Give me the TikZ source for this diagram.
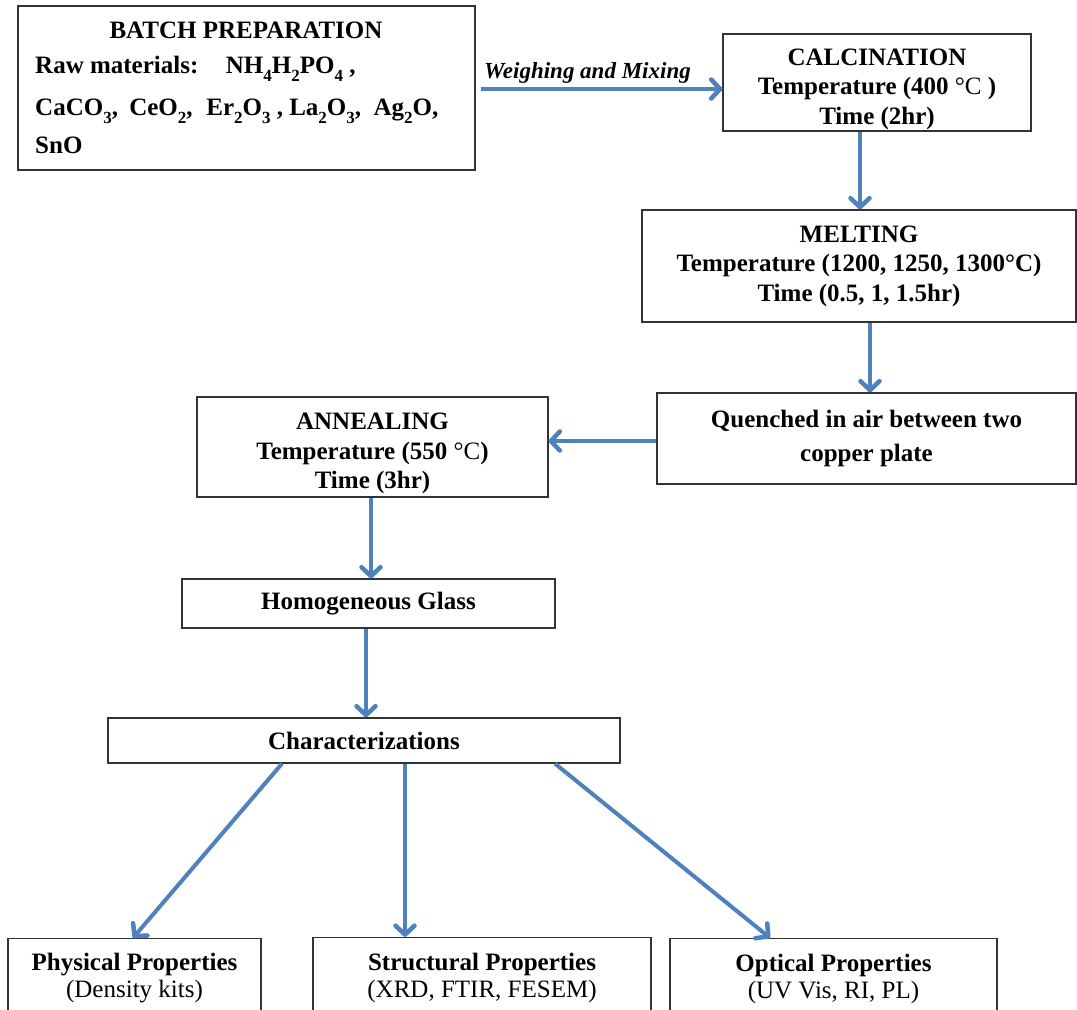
\documentclass[tikz,border=0pt]{standalone}
\usepackage{fontspec}
\setmainfont{Liberation Serif}
\usetikzlibrary{arrows.meta,calc}
\definecolor{arrblue}{HTML}{4F81BD}
\newcommand{\chemsub}[1]{\raisebox{-0.3em}{\fontsize{17}{17}\selectfont #1}}
\tikzset{
 box/.style={draw=black!80, line width=1.2pt, rectangle, inner sep=0pt, align=center, font=\bfseries\fontsize{25}{29.5}\selectfont},
 txt/.style={inner sep=0pt, font=\bfseries\fontsize{25}{29.5}\selectfont},
 arr/.style={draw=arrblue, line width=4pt, -{Straight Barb[length=9pt,width=19pt,line width=4.5pt,round]}},
}
\begin{document}
\begin{tikzpicture}[x=1pt,y=-1pt]
\clip (0,0) rectangle (1077,1010);
\fill[white] (0,0) rectangle (1077,1010);
% boxes
\node[box, minimum width=457, minimum height=164] (batch) at (246.5,88) {};
\node[txt] (batchtitle) at (246,30) {BATCH PREPARATION};
\node[txt, anchor=north west, align=left, font=\bfseries\fontsize{25}{38}\selectfont] (batchtext) at (35,56)
 {Raw materials:\hspace{1.1em}NH\chemsub{4}H\chemsub{2}PO\chemsub{4} ,\\[4pt]
  CaCO\chemsub{3},\hspace{0.2em} CeO\chemsub{2},\hspace{0.3em} Er\chemsub{2}O\chemsub{3} , La\chemsub{2}O\chemsub{3},\hspace{0.25em} Ag\chemsub{2}O,\\
  SnO};
\node[box, minimum width=308, minimum height=97] (calc) at (877,82.5)
 {\rule{0pt}{30pt}CALCINATION\\Temperature (400 {\mdseries °C} )\\Time (2hr)};
\node[box, minimum width=434, minimum height=112] (melt) at (859,266)
 {MELTING\\Temperature (1200, 1250, 1300°C)\\Time (0.5, 1, 1.5hr)};
\node[box, minimum width=419, minimum height=91, font=\bfseries\fontsize{25}{34}\selectfont] (quench) at (866.5,438.5)
 {Quenched in air between two\\copper plate};
\node[box, minimum width=351, minimum height=100] (anneal) at (372.5,447)
 {\rule{0pt}{30pt}ANNEALING\\Temperature (550 {\mdseries °C})\\Time (3hr)};
\node[box, minimum width=373, minimum height=49] (homog) at (368.5,603.5) {Homogeneous Glass};
\node[box, minimum width=512, minimum height=45] (char) at (364,740.5) {Characterizations};
\node[box, minimum width=253, minimum height=80, font=\fontsize{25}{27}\selectfont] (phys) at (134.5,978.5)
 {\textbf{Physical Properties}\\(Density kits)};
\node[box, minimum width=338, minimum height=80, font=\fontsize{25}{27}\selectfont] (struct) at (482,977.5)
 {\textbf{Structural Properties}\\(XRD, FTIR, FESEM)};
\node[box, minimum width=327, minimum height=80, font=\fontsize{25}{27}\selectfont] (opt) at (833.5,978.5)
 {\textbf{Optical Properties}\\(UV Vis, RI, PL)};
% arrows
\draw[arr] ([shift={(5,1)}]batch.east) -- ([shift={(0,1)}]batch.east -| calc.west)
  node[midway, above=4pt, xshift=-14pt, font=\bfseries\itshape\fontsize{23}{27}\selectfont, inner sep=0pt] (wm) {Weighing and Mixing};
\draw[arr] ([xshift=-17pt]calc.south) -- ([xshift=-17pt]calc.south |- melt.north);
\draw[arr] ([xshift=11pt]melt.south) -- ([xshift=11pt]melt.south |- quench.north);
\draw[arr] ([yshift=-2.5pt]quench.west) -- ([yshift=-2.5pt]quench.west -| anneal.east);
\draw[arr] ([xshift=-1.5pt]anneal.south) -- ([xshift=-1.5pt]anneal.south |- homog.north);
\draw[arr] ([xshift=-2.5pt]homog.south) -- ([xshift=-2.5pt]homog.south |- char.north);
\draw[arr] ([xshift=-82pt]char.south) -- ([xshift=-1.5pt]phys.north);
\draw[arr] ([xshift=41pt]char.south) -- ([xshift=41pt]char.south |- struct.north);
\draw[arr] ([xshift=191pt]char.south) -- ([xshift=-63.5pt]opt.north);
\end{tikzpicture}
\end{document}
